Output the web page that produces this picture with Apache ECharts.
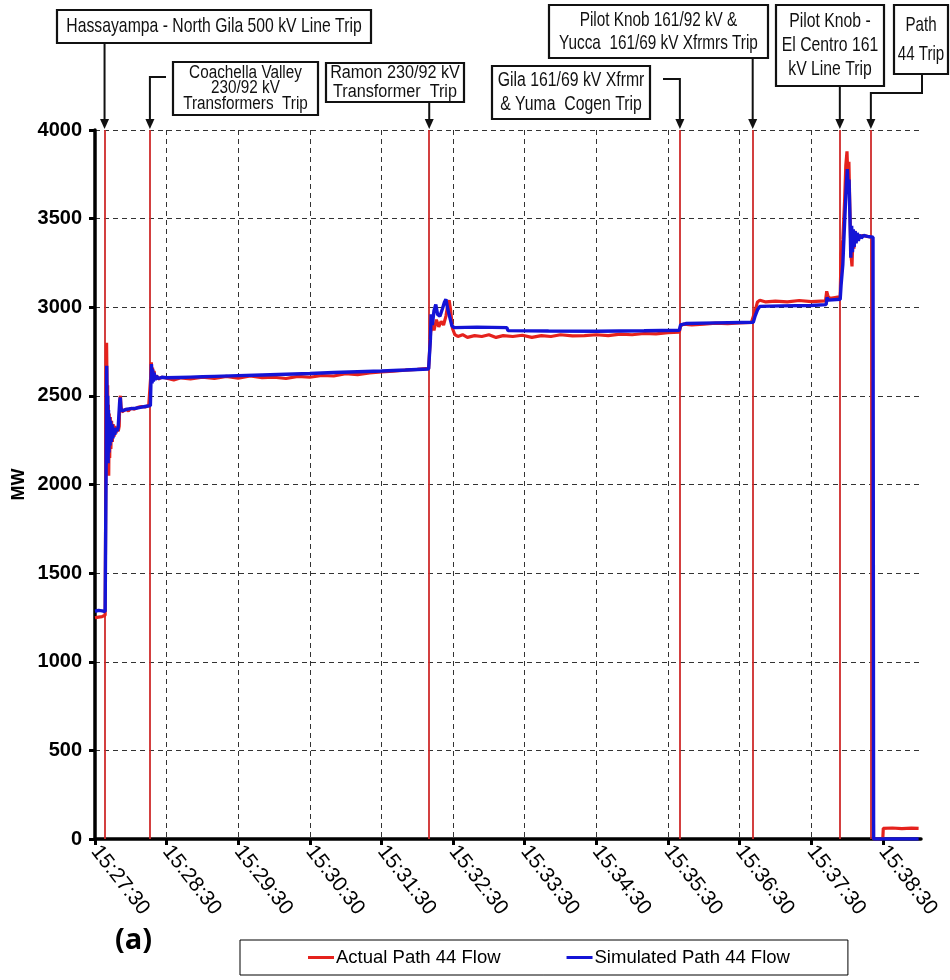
<!DOCTYPE html>
<html><head><meta charset="utf-8">
<script src="https://cdn.jsdelivr.net/npm/echarts@6/dist/echarts.min.js"></script>
<style>html,body{margin:0;padding:0;background:#fff}#c{width:950px;height:980px}</style>
</head><body><div id="c"></div>
<script>
// ---- data (time in seconds after 15:27:30, power in MW) ----
const tickLabels = ['15:27:30','15:28:30','15:29:30','15:30:30','15:31:30','15:32:30','15:33:30','15:34:30','15:35:30','15:36:30','15:37:30','15:38:30'];
const yTicks = [0,500,1000,1500,2000,2500,3000,3500,4000];

const actualT = [0,3,6,8.5,9.2,9.4,9.7,10.0,10.3,10.6,10.9,11.2,11.5,11.9,12.3,12.8,13.3,13.9,14.5,15.2,16,16.8,17.6,18.5,19.5,20.3,20.8,21.3,21.8,22.6,24,26,28,30,33,36,39,42,45,46.4,46.8,47.2,47.7,48.2,48.8,49.5,50.3,51.5,53,56,60,66,72,80,90,100,110,120,130,140,150,160,170,180,190,200,210,220,230,240,250,260,270,279.5,280.6,281.2,282.5,284,286,288,290,292,294,295.5,296.7,298,299.5,301.5,304,308,312,318,324,330,336,342,350,358,366,374,382,390,400,410,420,430,440,450,460,470,480,489.5,490.6,493,500,510,520,530,540,550,551.5,553,555,557,562,570,580,590,600,612,613,614.2,616,620,624.3,625,626.5,628,629,630,630.8,631.6,632.4,633.3,634.2,635,635.8,636.6,637.6,638.8,640.5,643,647,651,651.8,652.2,660,660.4,668,676,684,690];
const actualMW = [1248,1252,1255,1262,1270,2500,2800,2620,2250,2560,2080,2450,2050,2400,2150,2380,2200,2360,2240,2340,2270,2330,2290,2320,2300,2330,2480,2500,2440,2410,2420,2425,2415,2430,2425,2435,2440,2438,2445,2450,2620,2690,2600,2660,2600,2640,2595,2615,2595,2605,2600,2590,2602,2595,2605,2598,2610,2600,2612,2603,2605,2598,2610,2605,2615,2612,2625,2620,2630,2635,2640,2645,2650,2655,2660,2860,2900,2870,2930,2890,2920,2900,2950,3010,3040,2980,2880,2845,2835,2845,2830,2840,2835,2845,2830,2840,2835,2842,2830,2840,2835,2845,2838,2840,2845,2840,2848,2845,2852,2850,2856,2860,2895,2905,2900,2905,2910,2908,2912,2915,2920,2980,3030,3040,3030,3035,3030,3038,3032,3036,3090,3060,3050,3055,3060,3300,3380,3600,3800,3880,3720,3820,3560,3300,3230,3420,3330,3430,3370,3415,3390,3405,3400,3395,3390,0,0,60,62,58,61,60];

const simT = [0,3,6,8.5,9.2,9.5,9.8,10.1,10.4,10.7,11.0,11.3,11.7,12.1,12.6,13.1,13.7,14.3,15,15.8,16.6,17.5,18.4,19.4,20.3,20.7,21.2,21.7,22.5,24,27,30,34,38,42,46.4,46.8,47.3,47.8,48.3,48.9,49.6,50.4,51.5,53,56,60,70,80,90,100,120,140,160,180,200,220,240,260,279.5,280.6,281,281.6,282.6,284,285.5,287,289,291,292.8,294,295.5,297,299,301,320,345,346,380,420,460,489.5,490.6,495,520,551.5,553,555,557,575,600,612.5,613.3,614.5,624.3,625,626.5,627.5,628.5,629.5,630.3,631,631.7,632.5,633.2,633.9,634.6,635.3,636,636.8,637.6,638.5,639.5,640.7,642,644,647,651.8,652.3,690];
const simMW = [1285,1290,1287,1283,1280,2300,2670,2450,2150,2500,2120,2420,2180,2380,2220,2360,2240,2340,2260,2320,2280,2320,2300,2320,2330,2470,2490,2430,2415,2420,2425,2428,2430,2435,2440,2445,2560,2680,2570,2650,2580,2630,2590,2612,2598,2605,2602,2604,2606,2608,2610,2614,2618,2622,2626,2632,2636,2640,2646,2652,2660,2820,2960,2900,2980,3015,2960,2950,2990,3030,3045,2990,2950,2895,2885,2888,2885,2868,2866,2865,2867,2870,2900,2908,2912,2915,2950,2985,3005,3008,3010,3015,3055,3040,3045,3120,3240,3400,3550,3700,3780,3640,3720,3500,3280,3460,3310,3440,3340,3430,3360,3420,3375,3410,3390,3405,3400,3395,0,0];

const eventT = [8,46,280,490,551,624,650];
const eventText = [
  ['Hassayampa - North Gila 500 kV Line Trip'],
  ['Coachella Valley','230/92 kV','Transformers  Trip'],
  ['Ramon 230/92 kV','Transformer  Trip'],
  ['Gila 161/69 kV Xfrmr','& Yuma  Cogen Trip'],
  ['Pilot Knob 161/92 kV &','Yucca  161/69 kV Xfrmrs Trip'],
  ['Pilot Knob -','El Centro 161','kV Line Trip'],
  ['Path','44 Trip']
];
const seriesNames = ['Actual Path 44 Flow','Simulated Path 44 Flow'];
const panelLabel = '(a)';

// ---- layout of the annotation boxes (pixels) ----
const boxLayout = [
  {x:57,  y:10, w:314, h:33, fs:21, sx:0.75, lh:22, from:null, elbowY:null},
  {x:173, y:62, w:145, h:53, fs:18, sx:0.85, lh:15.5, from:[166,77], elbowY:77},
  {x:326, y:63, w:138, h:39, fs:18, sx:0.9, lh:19, from:null, elbowY:null},
  {x:492, y:66, w:158, h:53, fs:20, sx:0.79, lh:24, from:[663,79], elbowY:79},
  {x:549, y:5,  w:219, h:53, fs:21, sx:0.73, lh:23, from:null, elbowY:null},
  {x:776, y:5,  w:108, h:81, fs:21, sx:0.75, lh:24, from:null, elbowY:null},
  {x:894, y:5,  w:54,  h:69, fs:21, sx:0.72, lh:29, from:[922,74], elbowY:93}
];

const RED = '#e5221d', BLUE = '#1414d6', MARK = '#cf2b2b';
const FONT = '"Liberation Sans", Arial, sans-serif';
const pairs = (T, V) => T.map((t, i) => [t, V[i]]);
const tickValues = tickLabels.map((_, i) => i * 60);

const chart = echarts.init(document.getElementById('c'), null, {renderer: 'canvas'});
const axisLineStyle = {color: '#000', width: 3.5};
const dashed = {type: [5, 4], color: '#333', width: 1};

chart.setOption({
  animation: false,
  backgroundColor: '#fff',
  grid: {left: 95, right: 29, top: 130, bottom: 141, containLabel: false, outerBoundsMode: 'none'},
  xAxis: {
    type: 'value', min: 0, max: 692, interval: 60,
    axisLine: {lineStyle: axisLineStyle},
    axisTick: {length: 6, customValues: tickValues, lineStyle: {color: '#000', width: 3}},
    axisLabel: {
      rotate: -52, margin: 9, fontSize: 21, color: '#000', fontFamily: FONT,
      customValues: tickValues,
      formatter: v => tickLabels[Math.round(v / 60)] || ''
    },
    splitLine: {show: true, showMaxLine: false, lineStyle: dashed}
  },
  yAxis: {
    type: 'value', min: yTicks[0], max: yTicks[yTicks.length - 1], interval: 500,
    name: 'MW', nameLocation: 'middle', nameGap: 67, nameRotate: 90, nameMoveOverlap: false,
    nameTextStyle: {fontWeight: 'bold', fontSize: 18, color: '#000', fontFamily: FONT},
    axisLine: {show: true, lineStyle: axisLineStyle},
    axisTick: {show: true, length: 6, lineStyle: {color: '#000', width: 3}},
    axisLabel: {fontWeight: 'bold', fontSize: 20, color: '#000', margin: 13, fontFamily: FONT,
      formatter: v => String(v)},
    splitLine: {show: true, lineStyle: dashed}
  },
  legend: {
    left: 240, top: 940, itemGap: 66, itemWidth: 26, itemHeight: 3,
    borderColor: '#000', borderWidth: 1, padding: [8, 58, 8, 68],
    textStyle: {fontSize: 18.5, color: '#000', fontFamily: FONT, padding: [0, 0, 0, -3]},
    data: seriesNames.map(n => ({name: n, icon: 'rect'}))
  },
  series: [
    {
      type: 'line', name: seriesNames[0], data: pairs(actualT, actualMW),
      showSymbol: false, symbol: 'none', z: 2,
      lineStyle: {color: RED, width: 3.2}, itemStyle: {color: RED},
      markLine: {
        silent: true, symbol: 'none', label: {show: false}, z: 1,
        lineStyle: {color: MARK, width: 1.8, type: 'solid'},
        data: eventT.map(t => ({xAxis: t}))
      }
    },
    {
      type: 'line', name: seriesNames[1], data: pairs(simT, simMW),
      showSymbol: false, symbol: 'none', z: 3,
      lineStyle: {color: BLUE, width: 3.4}, itemStyle: {color: BLUE}
    }
  ]
});

// ---- annotations anchored to event times through the axis scale ----
const topY = chart.convertToPixel({yAxisIndex: 0}, yTicks[yTicks.length - 1]);
const graphics = [];
eventText.forEach((lines, i) => {
  const b = boxLayout[i];
  const ex = chart.convertToPixel({xAxisIndex: 0}, eventT[i]);
  graphics.push({type: 'rect', shape: {x: b.x, y: b.y, width: b.w, height: b.h},
    style: {fill: '#fff', stroke: '#111', lineWidth: 2.2}, z: 100});
  graphics.push({type: 'text', x: b.x + b.w / 2, y: b.y + b.h / 2, scaleX: b.sx, z: 101,
    style: {text: lines.join('\n'), align: 'center', verticalAlign: 'middle',
      font: b.fs + 'px ' + FONT, lineHeight: b.lh, fill: '#111'}});
  const tip = topY - 1;
  let pts;
  if (b.from) pts = [b.from, [b.from[0], b.elbowY], [ex, b.elbowY], [ex, tip - 8]];
  else pts = [[ex, b.y + b.h], [ex, tip - 8]];
  graphics.push({type: 'polyline', shape: {points: pts}, style: {stroke: '#111', lineWidth: 2, fill: null}, z: 100});
  graphics.push({type: 'polygon', shape: {points: [[ex - 4.5, tip - 10], [ex + 4.5, tip - 10], [ex, tip]]},
    style: {fill: '#111'}, z: 100});
});
graphics.push({type: 'text', left: 115, top: 926, z: 100,
  style: {text: panelLabel, font: 'bold 29px "Open Sans", "Liberation Sans", sans-serif', fill: '#000'}});
chart.setOption({graphic: graphics});
</script></body></html>
